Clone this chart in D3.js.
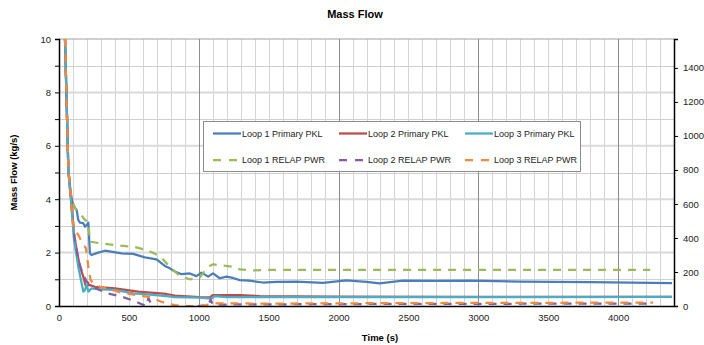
<!DOCTYPE html>
<html>
<head>
<meta charset="utf-8">
<script src="https://cdnjs.cloudflare.com/ajax/libs/d3/7.8.5/d3.min.js"></script>
<style>
body { margin: 0; background: #fff; }
svg { font-family: "Liberation Sans", Arial, sans-serif; }
</style>
</head>
<body>
<svg id="chart" width="704" height="345"></svg>
<script>
// series values: [time (s), mass flow (kg/s)]
var loop1Pkl = [[43,10],[67,5.1],[80,4.3],[95,3.9],[114,3.67],[126,3.6],[138,3.22],[150,3.12],[174,3.1],[186,2.97],[198,3.03],[210,3.12],[221,1.97],[233,1.91],[280,2.0],[329,2.07],[448,1.97],[531,1.95],[614,1.82],[698,1.75],[757,1.5],[793,1.41],[829,1.29],[876,1.19],[936,1.22],[983,1.12],[1019,1.25],[1067,1.1],[1102,1.22],[1150,1.04],[1198,1.1],[1245,1.05],[1293,0.97],[1360,0.95],[1460,0.88],[1555,0.9],[1698,0.91],[1888,0.87],[2055,0.96],[2200,0.9],[2293,0.85],[2460,0.95],[2700,0.94],[2936,0.95],[3300,0.91],[3800,0.89],[4386,0.86]];
var loop2Pkl = [[43,10],[67,5.1],[90,3.9],[107,2.7],[130,2.0],[150,1.47],[174,1.1],[186,0.85],[196,0.7],[210,0.8],[257,0.72],[400,0.66],[567,0.54],[769,0.45],[829,0.39],[1007,0.33],[1080,0.32],[1100,0.41],[1293,0.41],[1436,0.37],[1700,0.36],[2000,0.35],[3000,0.34],[4386,0.34]];
var loop3Pkl = [[43,10],[67,5.1],[88,3.8],[107,2.5],[138,1.47],[160,0.9],[174,0.54],[186,0.6],[198,0.79],[210,0.54],[233,0.66],[293,0.62],[400,0.6],[531,0.47],[590,0.45],[769,0.37],[829,0.33],[1007,0.31],[1090,0.28],[1114,0.37],[1198,0.33],[1500,0.33],[2000,0.33],[3000,0.33],[4386,0.34]];
var loop1Relap = [[43,10],[67,5.1],[90,4.0],[114,3.67],[150,3.47],[186,3.22],[210,3.16],[221,2.41],[293,2.35],[400,2.28],[531,2.22],[626,2.1],[721,1.87],[793,1.47],[864,1.12],[936,1.0],[1007,1.07],[1067,1.47],[1102,1.56],[1245,1.47],[1293,1.37],[1400,1.33],[1500,1.35],[4230,1.35]];
var loop2Relap = [[43,10],[67,5.1],[85,4.0],[110,2.6],[140,1.7],[170,1.2],[200,0.9],[240,0.75],[281,0.62],[352,0.47],[448,0.35],[543,0.18],[600,0.05],[625,0.0],[640,0.3],[660,0.05],[700,-0.2],[950,-0.2],[1000,0.0],[1070,0.05],[1085,0.25],[1100,0.05],[1300,0.06],[2500,0.08],[4250,0.09]];
var loop3Relap = [[43,10],[67,5.1],[79,4.4],[102,2.97],[138,2.66],[162,2.41],[193,2.16],[210,1.47],[226,0.97],[245,0.87],[293,0.72],[448,0.5],[590,0.38],[650,0.33],[733,0.16],[769,0.1],[829,0.03],[888,0],[1007,0],[1050,0.03],[1102,0.1],[1500,0.09],[2500,0.11],[3500,0.12],[4250,0.13]];

var seriesNames = ["Loop 1 Primary PKL", "Loop 2 Primary PKL", "Loop 3 Primary PKL",
                   "Loop 1 RELAP PWR", "Loop 2 RELAP PWR", "Loop 3 RELAP PWR"];
var seriesData = [loop1Pkl, loop2Pkl, loop3Pkl, loop1Relap, loop2Relap, loop3Relap];
var seriesColors = ["#4a7ebb", "#be4b48", "#4bacc6", "#9bbb59", "#7f60a0", "#f08a3c"];
var seriesDashed = [false, false, false, true, true, true];

var xTicks = [0, 500, 1000, 1500, 2000, 2500, 3000, 3500, 4000];
var yTicks = [0, 2, 4, 6, 8, 10];
var y2Ticks = [0, 200, 400, 600, 800, 1000, 1200, 1400];

var plotLeft = 59, plotRight = 674, plotTop = 39, plotBottom = 306;

var svg = d3.select("#chart");

var x = d3.scaleLinear().domain([0, 4400]).range([plotLeft, plotRight]);
var y = d3.scaleLinear().domain([0, 10]).range([plotBottom, plotTop]);
var y2 = d3.scaleLinear().domain([0, 1570]).range([plotBottom, plotTop]);

svg.append("defs").append("clipPath").attr("id", "plotClip")
  .append("rect")
  .attr("x", plotLeft).attr("y", plotTop)
  .attr("width", plotRight - plotLeft).attr("height", plotBottom - plotTop);

// grid
var grid = svg.append("g");
grid.selectAll(".vminor")
  .data(d3.range(100, 4400, 100).filter(function(d) { return d % 1000 != 0; }))
  .enter().append("line")
  .attr("x1", function(d) { return Math.round(x(d)) + 0.5; })
  .attr("x2", function(d) { return Math.round(x(d)) + 0.5; })
  .attr("y1", plotTop).attr("y2", plotBottom)
  .attr("stroke", "#d4d4d4").attr("stroke-width", 1);
grid.selectAll(".hminor")
  .data([1, 3, 5, 7, 9])
  .enter().append("line")
  .attr("x1", plotLeft).attr("x2", plotRight)
  .attr("y1", function(d) { return Math.round(y(d)) + 0.5; })
  .attr("y2", function(d) { return Math.round(y(d)) + 0.5; })
  .attr("stroke", "#cfcfcf").attr("stroke-width", 1);
grid.selectAll(".hmajor")
  .data([2, 4, 6, 8, 10])
  .enter().append("line")
  .attr("x1", plotLeft).attr("x2", plotRight)
  .attr("y1", function(d) { return y(d); })
  .attr("y2", function(d) { return y(d); })
  .attr("stroke", function(d) { return d == 10 ? "#a0a0a0" : "#d9d9d9"; })
  .attr("stroke-width", function(d) { return d == 10 ? 1 : 2; });
grid.selectAll(".vmajor")
  .data([1000, 2000, 3000, 4000])
  .enter().append("line")
  .attr("x1", function(d) { return Math.round(x(d)) + 0.5; })
  .attr("x2", function(d) { return Math.round(x(d)) + 0.5; })
  .attr("y1", plotTop).attr("y2", plotBottom)
  .attr("stroke", "#8c8c8c").attr("stroke-width", 1);

// lines
var line = d3.line()
  .x(function(d) { return x(d[0]); })
  .y(function(d) { return y(d[1]); });

var plot = svg.append("g").attr("clip-path", "url(#plotClip)");
plot.selectAll("path")
  .data(seriesData)
  .enter().append("path")
  .attr("d", line)
  .attr("fill", "none")
  .attr("stroke", function(d, i) { return seriesColors[i]; })
  .attr("stroke-width", 2.25)
  .attr("stroke-linejoin", "round")
  .attr("stroke-dasharray", function(d, i) { return seriesDashed[i] ? "8,7" : null; });

// axes
var xAxis = svg.append("g")
  .attr("transform", "translate(0," + plotBottom + ")")
  .call(d3.axisBottom(x).tickValues(xTicks).tickSize(0).tickPadding(8)
    .tickFormat(d3.format("d")));
var yAxis = svg.append("g")
  .attr("transform", "translate(" + plotLeft + ",0)")
  .call(d3.axisLeft(y).tickValues(d3.range(0, 11, 1)).tickSize(4).tickPadding(4)
    .tickFormat(function(d) { return yTicks.indexOf(d) >= 0 ? d : ""; }));
var y2Axis = svg.append("g")
  .attr("transform", "translate(" + plotRight + ",0)")
  .call(d3.axisRight(y2).tickValues(y2Ticks).tickSize(4).tickPadding(5)
    .tickFormat(d3.format("d")));

[xAxis, yAxis, y2Axis].forEach(function(a) {
  a.select(".domain").attr("stroke", "#000").attr("stroke-width", 1.5);
  a.selectAll(".tick line").attr("stroke", "#000");
  a.selectAll("text").attr("font-size", "9.5px").attr("fill", "#222")
    .attr("font-family", "Liberation Sans, Arial, sans-serif");
});

// titles
svg.append("text")
  .attr("x", 355).attr("y", 18)
  .attr("text-anchor", "middle")
  .attr("font-size", "11px").attr("font-weight", "bold")
  .text("Mass Flow");
svg.append("text")
  .attr("x", 380).attr("y", 341)
  .attr("text-anchor", "middle")
  .attr("font-size", "9.5px").attr("font-weight", "bold")
  .text("Time (s)");
svg.append("text")
  .attr("transform", "translate(17," + ((plotTop + plotBottom) / 2) + ") rotate(-90)")
  .attr("text-anchor", "middle")
  .attr("font-size", "9.5px").attr("font-weight", "bold")
  .text("Mass Flow (kg/s)");

// legend
var legend = svg.append("g");
legend.append("rect")
  .attr("x", 203.5).attr("y", 121.5)
  .attr("width", 377).attr("height", 50)
  .attr("fill", "#fff").attr("stroke", "#8c8c8c").attr("stroke-width", 1);

var item = legend.selectAll(".item")
  .data(seriesNames)
  .enter().append("g")
  .attr("transform", function(d, i) {
    return "translate(" + (213 + (i % 3) * 126) + "," + (i < 3 ? 133.5 : 160) + ")";
  });
item.append("line")
  .attr("x1", 0).attr("x2", 28)
  .attr("stroke", function(d, i) { return seriesColors[i]; })
  .attr("stroke-width", 2.25)
  .attr("stroke-dasharray", function(d, i) { return seriesDashed[i] ? "8,8" : null; });
item.append("text")
  .attr("x", 29).attr("y", 3.2)
  .attr("font-size", "9px").attr("fill", "#222")
  .text(function(d) { return d; });
</script>
</body>
</html>
